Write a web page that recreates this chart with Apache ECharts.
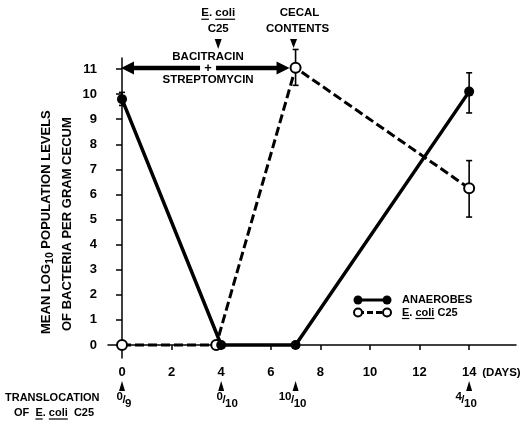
<!DOCTYPE html>
<html><head><meta charset="utf-8">
<script src="https://cdn.jsdelivr.net/npm/echarts@6/dist/echarts.min.js"></script>
<style>html,body{margin:0;padding:0;background:#fff}#c{width:529px;height:424px}</style>
</head><body><div id="c"></div>
<script>
// ---- data ----
const anaerobeDays = [0, 4, 7, 14];
const anaerobes = [9.8, 0, 0, 10.1];
const ecoliDays = [0, 3.8, 7, 14];
const ecoli = [0, 0, 11.05, 6.25];
const anaerobesErr = [[0, 9.55, 10.07], [14, 9.25, 10.85]];
const ecoliErr = [[7, 10.35, 11.78], [14, 5.1, 7.35]];
const yTicks = [0, 1, 2, 3, 4, 5, 6, 7, 8, 9, 10, 11];
const xTicks = [0, 2, 4, 6, 8, 10, 12, 14];
const translocDays = [0, 4, 7, 14];
const translocNum = ['0', '0', '10', '4'];
const translocDen = ['9', '10', '10', '10'];

const FF = '"Liberation Sans", Arial, sans-serif';
const chart = echarts.init(document.getElementById('c'), null, {renderer: 'canvas'});

chart.setOption({
  animation: false,
  backgroundColor: '#fff',
  grid: {left: 108, right: 13, top: 58, bottom: 66},
  xAxis: {
    type: 'value', min: -0.565, max: 15.89,
    splitLine: {show: false},
    axisLine: {lineStyle: {color: '#000', width: 1.5}},
    axisTick: {show: true, length: 5, customValues: xTicks, lineStyle: {color: '#000', width: 1.5}},
    axisLabel: {customValues: xTicks, color: '#000', fontWeight: 'bold', fontSize: 13, fontFamily: FF, margin: 8}
  },
  yAxis: {
    type: 'value', min: -0.518, max: 11.44,
    splitLine: {show: false},
    axisLine: {show: true, lineStyle: {color: '#000', width: 1.5}},
    axisTick: {show: true, length: 6, customValues: yTicks, lineStyle: {color: '#000', width: 1.5}},
    axisLabel: {customValues: yTicks, color: '#000', fontWeight: 'bold', fontSize: 13, fontFamily: FF, margin: 11}
  },
  series: [
    {
      type: 'custom', z: 1,
      data: anaerobesErr.concat(ecoliErr),
      encode: {x: 0, y: [1, 2]},
      renderItem: function (params, api) {
        const x = api.value(0), lo = api.value(1), hi = api.value(2);
        const a = api.coord([x, lo]), b = api.coord([x, hi]);
        const c = 3;
        const st = {stroke: '#000', lineWidth: 1.6};
        return {type: 'group', children: [
          {type: 'line', shape: {x1: a[0], y1: a[1], x2: b[0], y2: b[1]}, style: st},
          {type: 'line', shape: {x1: a[0] - c, y1: a[1], x2: a[0] + c, y2: a[1]}, style: st},
          {type: 'line', shape: {x1: b[0] - c, y1: b[1], x2: b[0] + c, y2: b[1]}, style: st}
        ]};
      }
    },
    {
      name: 'E. coli C25', type: 'line', z: 2,
      data: ecoliDays.map((d, i) => [d, ecoli[i]]),
      symbol: 'circle', symbolSize: 10, showAllSymbol: true,
      lineStyle: {color: '#000', width: 3, type: [9, 4]},
      itemStyle: {color: '#fff', borderColor: '#000', borderWidth: 2}
    },
    {
      name: 'ANAEROBES', type: 'line', z: 3,
      data: anaerobeDays.map((d, i) => [d, anaerobes[i]]),
      symbol: 'circle', symbolSize: 10, showAllSymbol: true,
      lineStyle: {color: '#000', width: 3.5},
      itemStyle: {color: '#000', borderColor: '#000', borderWidth: 0}
    }
  ]
});

// ---- annotations ----
const mctx = document.createElement('canvas').getContext('2d');
function fontStr(s) { return 'bold ' + s + 'px ' + FF; }
function measure(t, s) { mctx.font = fontStr(s); return mctx.measureText(t).width; }
function textEl(t, x, y, s) {
  return {type: 'text', x: x, y: y, z: 100, style: {text: t, font: fontStr(s), fontSize: s, fontWeight: 'bold', fontFamily: FF,
    fill: '#000', align: 'left', verticalAlign: 'middle', textAlign: 'left', textVerticalAlign: 'middle'}};
}
// parts: {t, s, dy, ul, k}
function row(parts, x, y, align) {
  const ws = parts.map(p => measure(p.t, p.s || 11.5) + (p.k || 0));
  const total = ws.reduce((a, b) => a + b, 0);
  let cx = align === 'center' ? x - total / 2 : (align === 'right' ? x - total : x);
  const els = [];
  parts.forEach((p, i) => {
    const s = p.s || 11.5;
    const yy = y + (p.dy || 0);
    els.push(textEl(p.t, cx, yy, s));
    if (p.ul) {
      const w = measure(p.t.trim(), s);
      const off = measure(p.t, s) - measure(p.t.trimStart(), s);
      els.push({type: 'line', z: 100, shape: {x1: cx + off, y1: yy + s * 0.5 + 0.5, x2: cx + off + w, y2: yy + s * 0.5 + 0.5},
        style: {stroke: '#000', lineWidth: 1.2}});
    }
    cx += ws[i];
  });
  return els;
}
function tri(x, y1, y2, hw) {
  return {type: 'polygon', z: 100, shape: {points: [[x - hw, y1], [x + hw, y1], [x, y2]]}, style: {fill: '#000'}};
}
const px = d => chart.convertToPixel({xAxisIndex: 0, yAxisIndex: 0}, [d, 0])[0];
const py = v => chart.convertToPixel({xAxisIndex: 0, yAxisIndex: 0}, [0, v])[1];

const G = [];
// Y axis title (rotated)
G.push({type: 'group', x: 52, y: 334, rotation: Math.PI / 2, children: [].concat(
  row([{t: 'MEAN LOG', s: 13}, {t: '10', s: 10.5, dy: 4.5}, {t: ' POPULATION LEVELS', s: 13}], 0, -6, 'left'),
  row([{t: 'OF BACTERIA PER GRAM CECUM', s: 13}], 3, 15, 'left')
)});

// x axis "(DAYS)"
G.push(...row([{t: '(DAYS)', s: 11.5}], px(14) + 13, 373, 'left'));

// top annotations
const x4 = px(4) - 3, x7 = px(7);
G.push(...row([{t: 'E', ul: true}, {t: '. '}, {t: 'coli', ul: true}], x4, 13, 'center'));
G.push(...row([{t: 'C25'}], x4, 29, 'center'));
G.push(tri(x4, 39, 49, 3.5));
G.push(...row([{t: 'CECAL'}], x7 + 4, 13, 'center'));
G.push(...row([{t: 'CONTENTS'}], x7 + 2, 29, 'center'));
G.push(tri(x7 - 2, 39, 48, 3.5));

// double arrow + text
const ya = py(11) - 1;
const xL = px(0) - 1, xR = px(7) - 6, xp = px(3.47);
const hl = 13, hh = 6.5;
G.push({type: 'polygon', z: 100, shape: {points: [[xL, ya], [xL + hl, ya - hh], [xL + hl, ya + hh]]}, style: {fill: '#000'}});
G.push({type: 'line', z: 100, shape: {x1: xL + hl - 1, y1: ya, x2: xp - 8, y2: ya}, style: {stroke: '#000', lineWidth: 4.5}});
G.push({type: 'line', z: 100, shape: {x1: xp + 8, y1: ya, x2: xR - hl + 1, y2: ya}, style: {stroke: '#000', lineWidth: 4.5}});
G.push({type: 'polygon', z: 100, shape: {points: [[xR, ya], [xR - hl, ya - hh], [xR - hl, ya + hh]]}, style: {fill: '#000'}});
G.push(...row([{t: 'BACITRACIN'}], xp, ya - 11, 'center'));
G.push(...row([{t: '+', s: 13}], xp, ya, 'center'));
G.push(...row([{t: 'STREPTOMYCIN'}], xp, ya + 12, 'center'));

// legend
const lx1 = 358, lx2 = 387, ly1 = 300, ly2 = 312.5;
G.push({type: 'line', z: 100, shape: {x1: lx1, y1: ly1, x2: lx2, y2: ly1}, style: {stroke: '#000', lineWidth: 3}});
G.push({type: 'circle', z: 100, shape: {cx: lx1, cy: ly1, r: 4.5}, style: {fill: '#000'}});
G.push({type: 'circle', z: 100, shape: {cx: lx2, cy: ly1, r: 4.5}, style: {fill: '#000'}});
G.push({type: 'line', z: 100, shape: {x1: lx1, y1: ly2, x2: lx2, y2: ly2}, style: {stroke: '#000', lineWidth: 3, lineDash: [6, 3]}});
G.push({type: 'circle', z: 100, shape: {cx: lx1, cy: ly2, r: 4}, style: {fill: '#fff', stroke: '#000', lineWidth: 2}});
G.push({type: 'circle', z: 100, shape: {cx: lx2, cy: ly2, r: 4}, style: {fill: '#fff', stroke: '#000', lineWidth: 2}});
G.push(...row([{t: 'ANAEROBES', s: 11}], 402, ly1, 'left'));
G.push(...row([{t: 'E', s: 11, ul: true}, {t: '. ', s: 11}, {t: 'coli', s: 11, ul: true}, {t: ' C25', s: 11}], 402, ly2, 'left'));

// translocation
G.push(...row([{t: 'TRANSLOCATION', s: 11}], 5, 398, 'left'));
G.push(...row([{t: 'OF  ', s: 11}, {t: 'E', s: 11, ul: true}, {t: '. ', s: 11}, {t: 'coli', s: 11, ul: true}, {t: '  C25', s: 11}], 14, 413, 'left'));
const fOff = [2, 6, -3, -3];
translocDays.forEach((d, i) => {
  const x = px(d);
  G.push(tri(x, 391, 381, 3));
  G.push(...row([{t: translocNum[i], s: 11.5, dy: -3.5, k: -0.5}, {t: '/', s: 11.5, k: -0.5}, {t: translocDen[i], s: 11.5, dy: 3.5}], x + fOff[i], 400, 'center'));
});

chart.setOption({graphic: {elements: G}});
</script>
</body></html>
